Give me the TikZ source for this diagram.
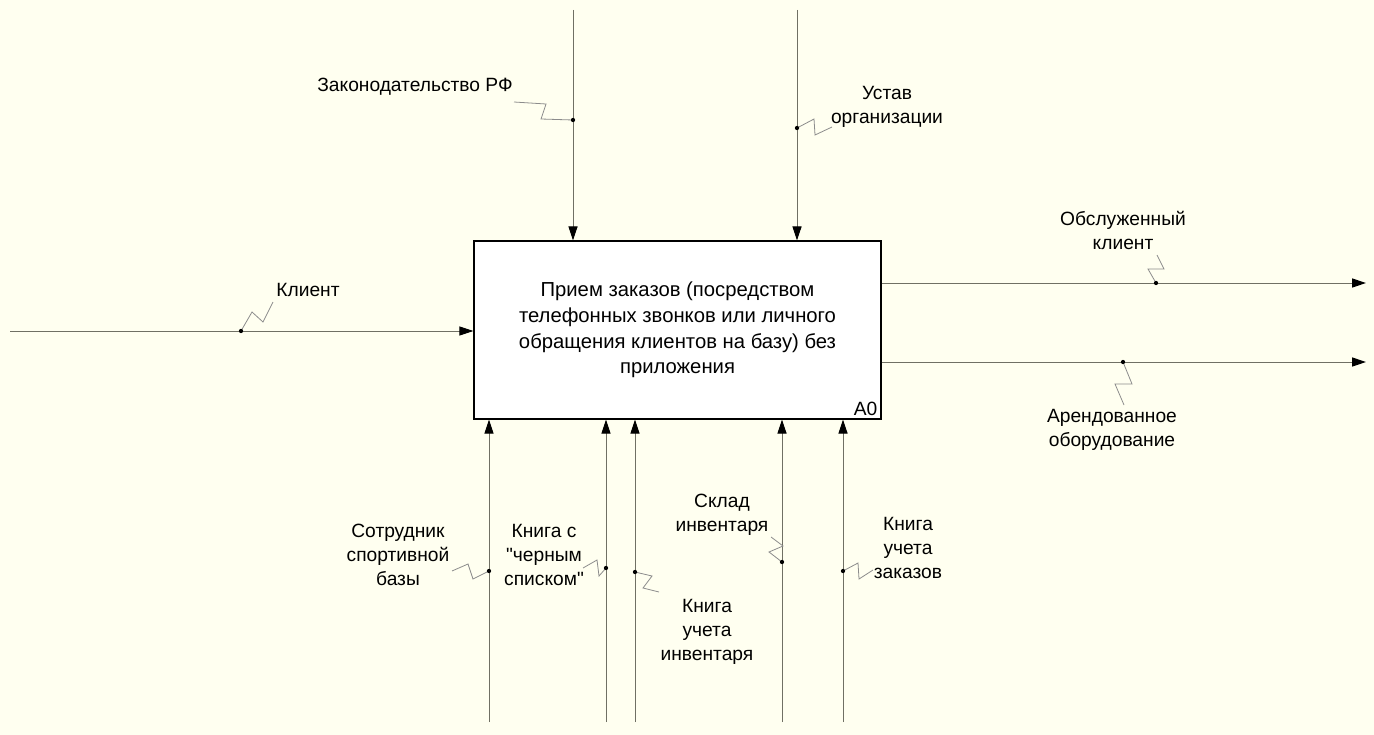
\documentclass[tikz,border=0pt]{standalone}
\usepackage{fontspec}
\setmainfont{Liberation Sans}[Ligatures=TeXOff]
\usepackage{tikz}
\usetikzlibrary{positioning, arrows.meta}

\definecolor{paper}{RGB}{255,255,240}
\definecolor{flow}{RGB}{112,112,100}
\definecolor{squig}{RGB}{140,140,140}

\begin{document}
\begin{tikzpicture}[x=0.75pt, y=-0.75pt]
\tikzstyle{box}=[rectangle, draw=black, fill=white, line width=0.8pt, align=center,
        text=black, minimum width=305.25pt, minimum height=133.5pt, inner sep=0pt,
        font=\fontsize{15.2}{19.3}\selectfont]
\tikzstyle{lbl}=[align=center, text=black, inner sep=0pt]
\tikzstyle{arrow}=[-{Triangle[length=10.5pt, width=6.8pt, color=black]}, draw=flow, line width=0.75pt]
\tikzstyle{zig}=[draw=squig, line width=0.6pt]
\tikzstyle{dot}=[fill=black, radius=1.6pt]

\fill[paper] (0,0) rectangle (1374,735);
\fontsize{14.4}{18}\selectfont

    \node (act) [box,
        label={[anchor=south east, inner sep=3pt, font=\fontsize{14.4}{18}\selectfont]south east:A0}] at (677.5,330){
            Прием заказов (посредством\\
            телефонных звонков или личного\\
            обращения клиентов на базу) без\\
            приложения
    };

    % free ends of the arrows
    \coordinate (cZak) at (573,10);
    \coordinate (cUst) at (797,10);
    \coordinate (cKli) at (10,331);
    \coordinate (cObs) at (1366,283);
    \coordinate (cArn) at (1366,362);
    \coordinate (cSot) at (489,722);
    \coordinate (cKch) at (606,722);
    \coordinate (cKui) at (635,722);
    \coordinate (cSkl) at (782,722);
    \coordinate (cKuz) at (843,722);

    % labels
    \node (lZak) [lbl] at (415,87) {Законодательство РФ};
    \node (lUst) [lbl] at (887,106.5) {Устав\\организации};
    \node (lKli) [lbl] at (308,290) {Клиент};
    \node (lObs) [lbl] at (1123,230.5) {Обслуженный\\клиент};
    \node (lArn) [lbl] at (1112,430) {Арендованное\\оборудование};
    \node (lSot) [lbl] at (398,555) {Сотрудник\\спортивной\\базы};
    \node (lKch) [lbl] at (544,555) {Книга с\\"черным\\списком"};
    \node (lKui) [lbl] at (707,632) {Книга\\учета\\инвентаря};
    \node (lSkl) [lbl] at (722,514.5) {Склад\\инвентаря};
    \node (lKuz) [lbl] at (908,548) {Книга\\учета\\заказов};

\draw[arrow] (cZak) -- (cZak |- act.north);
\draw[arrow] (cUst) -- (cUst |- act.north);
\draw[arrow] (cKli) -- (cKli -| act.west);
\draw[arrow] (act.east |- cObs) -- (cObs);
\draw[arrow] (act.east |- cArn) -- (cArn);
\draw[arrow] (cSot) -- (cSot |- act.south);
\draw[arrow] (cKch) -- (cKch |- act.south);
\draw[arrow] (cKui) -- (cKui |- act.south);
\draw[arrow] (cSkl) -- (cSkl |- act.south);
\draw[arrow] (cKuz) -- (cKuz |- act.south);

    % label ties
    \coordinate (dZak) at (573,120);
    \coordinate (dUst) at (797,128);
    \coordinate (dKli) at (241,331);
    \coordinate (dObs) at (1156,283);
    \coordinate (dArn) at (1123,362);
    \coordinate (dSot) at (489,571);
    \coordinate (dKch) at (606,568);
    \coordinate (dKui) at (635,572);
    \coordinate (dSkl) at (782,562);
    \coordinate (dKuz) at (843,571);

\draw[zig] (dZak) -- ++(-32,-1) -- ++(5,-15) -- ++(-32,-2);
\draw[zig] (dUst) -- ++(17,-9) -- ++(1,16) -- ++(17,-8);
\draw[zig] (dKli) -- ++(11,-19) -- ++(11,10) -- ++(10,-20);
\draw[zig] (dObs) -- ++(-8,-14) -- ++(16,0) -- ++(-7,-14);
\draw[zig] (dArn) -- ++(9,22) -- ++(-17,0) -- ++(9,21);
\draw[zig] (dSot) -- ++(-16,8) -- ++(-5,-15) -- ++(-16,7);
\draw[zig] (dKch) -- ++(-7,8) -- ++(-2,-16) -- ++(-14,8);
\draw[zig] (dKui) -- ++(17,4) -- ++(-9,12) -- ++(16,4);
\draw[zig] (dSkl) -- ++(-13,-10) -- ++(14,-6) -- ++(-12,-9);
\draw[zig] (dKuz) -- ++(15,-8) -- ++(1,16) -- ++(14,-9);

\fill[dot] (dZak) circle;
\fill[dot] (dUst) circle;
\fill[dot] (dKli) circle;
\fill[dot] (dObs) circle;
\fill[dot] (dArn) circle;
\fill[dot] (dSot) circle;
\fill[dot] (dKch) circle;
\fill[dot] (dKui) circle;
\fill[dot] (dSkl) circle;
\fill[dot] (dKuz) circle;

\end{tikzpicture}
\end{document}
